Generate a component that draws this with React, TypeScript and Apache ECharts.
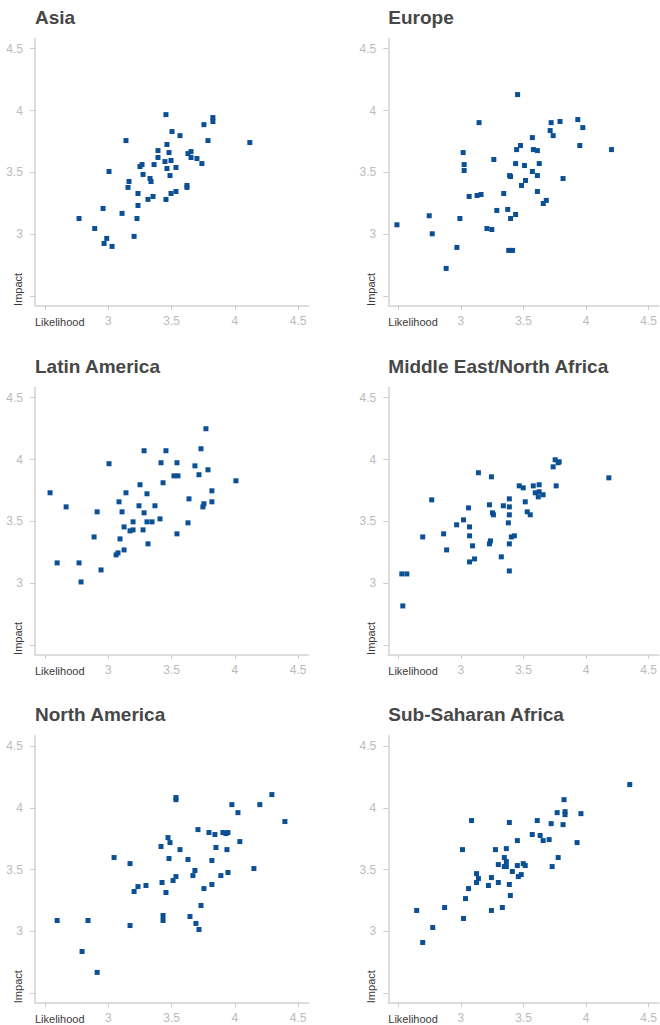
import React, { useEffect, useRef } from "react";
import * as echarts from "echarts";

const regions = [
  "Asia",
  "Europe",
  "Latin America",
  "Middle East/North Africa",
  "North America",
  "Sub-Saharan Africa",
];

// [likelihood, impact]
const asia: [number, number][] = [
  [2.768, 3.127], [2.892, 3.046], [2.958, 3.208], [2.987, 2.966], [2.966, 2.925],
  [3.029, 2.901], [3.005, 3.507], [3.108, 3.168], [3.139, 3.757], [3.163, 3.426],
  [3.155, 3.378], [3.203, 2.982], [3.226, 3.127], [3.234, 3.329], [3.234, 3.232],
  [3.25, 3.547], [3.266, 3.563], [3.274, 3.483], [3.313, 3.281], [3.329, 3.45],
  [3.337, 3.426], [3.353, 3.305], [3.361, 3.563], [3.392, 3.676], [3.392, 3.62],
  [3.447, 3.587], [3.455, 3.967], [3.463, 3.725], [3.463, 3.531], [3.455, 3.281],
  [3.479, 3.66], [3.495, 3.596], [3.487, 3.474], [3.495, 3.329], [3.503, 3.83],
  [3.534, 3.539], [3.534, 3.345], [3.566, 3.797], [3.621, 3.394], [3.621, 3.378],
  [3.629, 3.652], [3.653, 3.668], [3.653, 3.62], [3.7, 3.612], [3.739, 3.571],
  [3.755, 3.886], [3.787, 3.757], [3.826, 3.943], [3.826, 3.911], [4.118, 3.741],
];

const europe: [number, number][] = [
  [2.489, 3.076], [2.747, 3.149], [2.771, 3.003], [2.882, 2.723], [2.968, 2.893],
  [2.992, 3.127], [3.018, 3.66], [3.026, 3.563], [3.026, 3.515], [3.066, 3.305],
  [3.129, 3.313], [3.161, 3.321], [3.145, 3.902], [3.208, 3.046], [3.247, 3.038],
  [3.263, 3.604], [3.287, 3.192], [3.342, 3.329], [3.374, 3.2], [3.382, 2.869],
  [3.413, 2.869], [3.389, 3.474], [3.397, 3.466], [3.397, 3.127], [3.437, 3.159],
  [3.437, 3.571], [3.445, 3.684], [3.453, 4.129], [3.476, 3.717], [3.484, 3.394],
  [3.508, 3.555], [3.516, 3.434], [3.571, 3.781], [3.571, 3.507], [3.579, 3.684],
  [3.611, 3.676], [3.611, 3.474], [3.611, 3.345], [3.626, 3.571], [3.658, 3.248],
  [3.682, 3.273], [3.713, 3.838], [3.721, 3.902], [3.737, 3.797], [3.792, 3.911],
  [3.816, 3.45], [3.934, 3.927], [3.95, 3.717], [3.974, 3.862], [4.203, 3.684],
];

const latinAmerica: [number, number][] = [
  [2.539, 3.731], [2.595, 3.164], [2.666, 3.617], [2.768, 3.164], [2.784, 3.01],
  [2.887, 3.374], [2.911, 3.577], [2.942, 3.107], [3.005, 3.966], [3.061, 3.229],
  [3.076, 3.245], [3.084, 3.658], [3.092, 3.358], [3.108, 3.577], [3.124, 3.455],
  [3.124, 3.269], [3.139, 3.731], [3.171, 3.423], [3.195, 3.431], [3.195, 3.496],
  [3.242, 3.626], [3.25, 3.796], [3.274, 3.431], [3.282, 3.569], [3.282, 4.071],
  [3.305, 3.723], [3.305, 3.496], [3.313, 3.318], [3.345, 3.496], [3.368, 3.626],
  [3.408, 3.52], [3.416, 3.974], [3.432, 3.812], [3.455, 4.071], [3.518, 3.868],
  [3.542, 3.974], [3.542, 3.399], [3.55, 3.868], [3.629, 3.488], [3.637, 3.682],
  [3.684, 3.949], [3.716, 3.877], [3.732, 4.087], [3.747, 3.617], [3.755, 3.642],
  [3.771, 4.249], [3.787, 3.917], [3.818, 3.747], [3.818, 3.658], [4.008, 3.828],
];

const middleEast: [number, number][] = [
  [2.528, 3.075], [2.568, 3.075], [2.536, 2.816], [2.695, 3.374], [2.767, 3.674],
  [2.862, 3.399], [2.886, 3.269], [2.966, 3.472], [3.021, 3.512], [3.061, 3.609],
  [3.069, 3.455], [3.069, 3.383], [3.069, 3.172], [3.093, 3.302], [3.109, 3.196],
  [3.14, 3.893], [3.228, 3.634], [3.228, 3.318], [3.236, 3.342], [3.244, 3.86],
  [3.252, 3.569], [3.26, 3.553], [3.323, 3.213], [3.339, 3.626], [3.379, 3.488],
  [3.387, 3.682], [3.387, 3.617], [3.387, 3.553], [3.387, 3.318], [3.387, 3.099],
  [3.403, 3.374], [3.427, 3.383], [3.466, 3.787], [3.498, 3.771], [3.514, 3.658],
  [3.53, 3.577], [3.554, 3.553], [3.578, 3.787], [3.594, 3.731], [3.618, 3.698],
  [3.625, 3.796], [3.625, 3.739], [3.657, 3.715], [3.737, 3.941], [3.753, 3.998],
  [3.761, 3.787], [3.777, 3.974], [3.785, 3.982], [4.182, 3.852],
];

const northAmerica: [number, number][] = [
  [2.595, 3.089], [2.792, 2.838], [2.839, 3.089], [2.911, 2.669], [3.045, 3.598],
  [3.171, 3.549], [3.171, 3.048], [3.203, 3.323], [3.234, 3.363], [3.297, 3.372],
  [3.416, 3.687], [3.424, 3.396], [3.432, 3.129], [3.432, 3.089], [3.455, 3.315],
  [3.471, 3.759], [3.479, 3.59], [3.487, 3.719], [3.511, 3.412], [3.534, 3.444],
  [3.534, 4.083], [3.534, 4.066], [3.566, 3.662], [3.629, 3.582], [3.645, 3.121],
  [3.668, 3.452], [3.684, 3.493], [3.692, 3.065], [3.708, 3.824], [3.716, 3.016],
  [3.732, 3.21], [3.755, 3.347], [3.795, 3.8], [3.818, 3.574], [3.818, 3.38],
  [3.842, 3.784], [3.85, 3.679], [3.889, 3.452], [3.905, 3.8], [3.929, 3.792],
  [3.945, 3.8], [3.937, 3.662], [3.945, 3.477], [3.976, 4.026], [4.024, 3.961],
  [4.039, 3.727], [4.15, 3.509], [4.197, 4.026], [4.292, 4.107], [4.395, 3.889],
];

const subSaharanAfrica: [number, number][] = [
  [2.647, 3.17], [2.695, 2.911], [2.775, 3.032], [2.87, 3.194], [3.013, 3.662],
  [3.021, 3.105], [3.037, 3.266], [3.061, 3.347], [3.085, 3.897], [3.125, 3.468],
  [3.125, 3.396], [3.14, 3.428], [3.22, 3.372], [3.244, 3.436], [3.244, 3.17],
  [3.276, 3.662], [3.299, 3.541], [3.299, 3.396], [3.331, 3.194], [3.347, 3.598],
  [3.347, 3.525], [3.363, 3.565], [3.363, 3.525], [3.363, 3.67], [3.387, 3.881],
  [3.387, 3.38], [3.395, 3.291], [3.411, 3.485], [3.451, 3.735], [3.451, 3.533],
  [3.459, 3.444], [3.482, 3.46], [3.498, 3.549], [3.514, 3.533], [3.57, 3.784],
  [3.61, 3.897], [3.633, 3.776], [3.657, 3.735], [3.705, 3.743], [3.721, 3.872],
  [3.729, 3.525], [3.769, 3.961], [3.777, 3.598], [3.816, 3.864], [3.824, 4.066],
  [3.832, 3.969], [3.832, 3.945], [3.928, 3.719], [3.959, 3.953], [4.349, 4.188],
];

const regionData = [asia, europe, latinAmerica, middleEast, northAmerica, subSaharanAfrica];

const tickValues = [2.5, 3, 3.5, 4, 4.5];
const labelValues = [3, 3.5, 4, 4.5];
const xAxisTitle = "Likelihood";
const yAxisTitle = "Impact";

const COL_LEFT = [35, 388.3];
const ROW_TOP = [38.8, 387.8, 736.1];
const GRID_W = 273.3;
const GRID_H = 267.1;
const PAD = 0.08;
const FONT = "'Liberation Sans', Arial, Helvetica, sans-serif";

export default function App() {
  const ref = useRef<HTMLDivElement>(null);

  useEffect(() => {
    document.body.style.margin = "0";
    if (!ref.current) return;
    const chart = echarts.init(ref.current, undefined, { renderer: "svg" });

    const grids: any[] = [];
    const xAxes: any[] = [];
    const yAxes: any[] = [];
    const series: any[] = [];
    const graphics: any[] = [];

    regionData.forEach((data, i) => {
      const col = i % 2;
      const row = Math.floor(i / 2);
      const left = COL_LEFT[col];
      const top = ROW_TOP[row];
      grids.push({ left, top, width: GRID_W, height: GRID_H, containLabel: false });
      xAxes.push({
        type: "value",
        gridIndex: i,
        min: 2.5 - PAD,
        max: 4.5 + PAD,
        splitLine: { show: false },
        axisLine: { show: true, onZero: false, lineStyle: { color: "#dddddd", width: 2 } },
        axisTick: { show: true, length: 4, customValues: tickValues, lineStyle: { color: "#cccccc", width: 1 } },
        axisLabel: {
          show: true,
          customValues: labelValues,
          margin: 9,
          color: "#bbbbbb",
          fontSize: 12,
          fontFamily: FONT,
          formatter: (v: number) => String(v),
        },
      });
      yAxes.push({
        type: "value",
        gridIndex: i,
        min: 2.5 - PAD,
        max: 4.5 + PAD,
        splitLine: { show: false },
        axisLine: { show: true, onZero: false, lineStyle: { color: "#dddddd", width: 2 } },
        axisTick: { show: true, length: 5, customValues: tickValues, lineStyle: { color: "#cccccc", width: 1 } },
        axisLabel: {
          show: true,
          customValues: labelValues,
          margin: 12,
          color: "#bbbbbb",
          fontSize: 12,
          fontFamily: FONT,
          formatter: (v: number) => String(v),
        },
      });
      series.push({
        type: "scatter",
        name: regions[i],
        xAxisIndex: i,
        yAxisIndex: i,
        symbol: "rect",
        symbolSize: 5,
        itemStyle: { color: "#0b4f94", opacity: 1 },
        data,
      });
      graphics.push({
        type: "text",
        x: left,
        y: top - 21.8,
        style: {
          text: regions[i],
          fill: "#474747",
          fontSize: 19,
          fontWeight: "bold",
          fontFamily: FONT,
          align: "left",
          verticalAlign: "middle",
        },
      });
      graphics.push({
        type: "text",
        x: left,
        y: top + GRID_H + 15.7,
        style: {
          text: xAxisTitle,
          fill: "#3a3a3a",
          fontSize: 11,
          fontFamily: FONT,
          align: "left",
          verticalAlign: "middle",
        },
      });
      graphics.push({
        type: "text",
        x: left - 17,
        y: top + GRID_H,
        rotation: Math.PI / 2,
        style: {
          text: yAxisTitle,
          fill: "#3a3a3a",
          fontSize: 11,
          fontFamily: FONT,
          align: "left",
          verticalAlign: "middle",
        },
      });
    });

    chart.setOption({
      animation: false,
      backgroundColor: "#ffffff",
      grid: grids,
      xAxis: xAxes,
      yAxis: yAxes,
      series,
      graphic: graphics,
    });

    return () => chart.dispose();
  }, []);

  return (
    <div
      ref={ref}
      style={{ position: "absolute", left: 0, top: 0, width: 660, height: 1025 }}
    />
  );
}
